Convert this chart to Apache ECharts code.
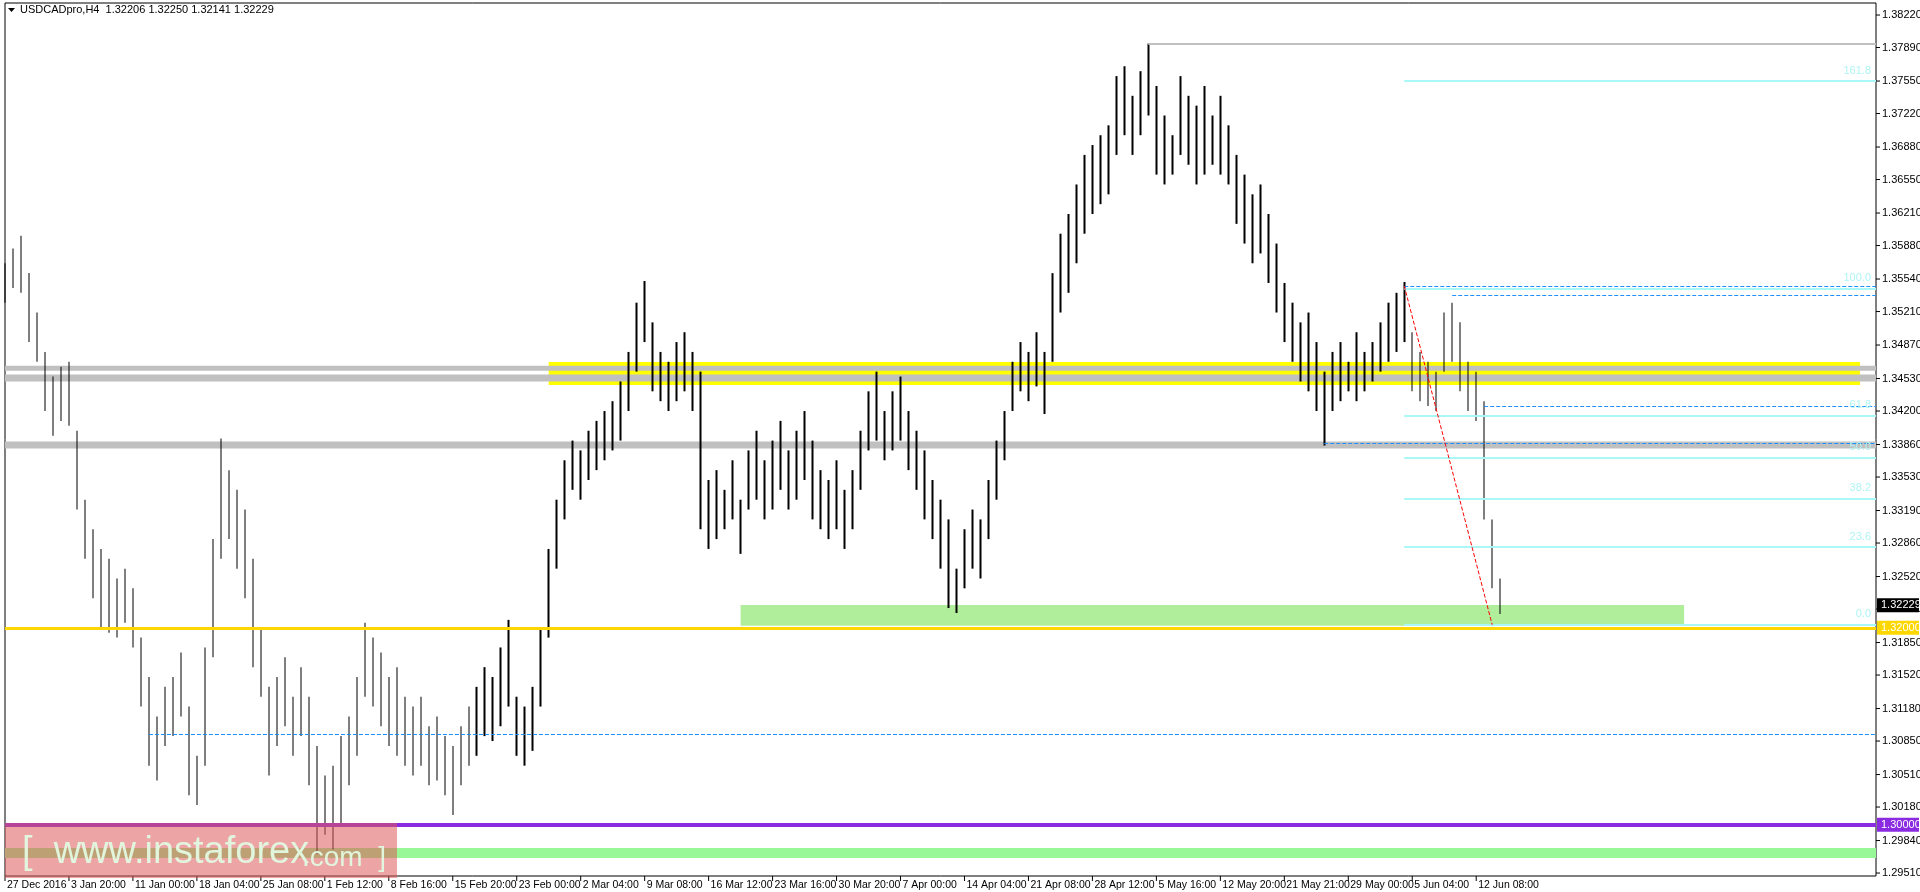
<!DOCTYPE html>
<html><head><meta charset="utf-8">
<script src="https://cdn.jsdelivr.net/npm/echarts@6/dist/echarts.min.js"></script>
<style>html,body{margin:0;padding:0;background:#fff}#c{width:1920px;height:892px}</style>
</head><body><div id="c"></div>
<script>
const tickLabels = ['27 Dec 2016','3 Jan 20:00','11 Jan 00:00','18 Jan 04:00','25 Jan 08:00','1 Feb 12:00','8 Feb 16:00','15 Feb 20:00','23 Feb 00:00','2 Mar 04:00','9 Mar 08:00','16 Mar 12:00','23 Mar 16:00','30 Mar 20:00','7 Apr 00:00','14 Apr 04:00','21 Apr 08:00','28 Apr 12:00','5 May 16:00','12 May 20:00','21 May 21:00','29 May 00:00','5 Jun 04:00','12 Jun 08:00'];
const yTicks = [1.38220,1.37890,1.37550,1.37220,1.36880,1.36550,1.36210,1.35880,1.35540,1.35210,1.34870,1.34530,1.34200,1.33860,1.33530,1.33190,1.32860,1.32520,1.32190,1.31850,1.31520,1.31180,1.30850,1.30510,1.30180,1.29840,1.29510];
const highs = [1.3570,1.3585,1.3598,1.3560,1.3520,1.3480,1.3455,1.3465,1.3470,1.3400,1.3330,
1.3300,1.3280,1.3270,1.3250,1.3260,1.3240,1.3190,1.3150,1.3110,1.3140,1.3150,1.3175,1.3120,1.3070,
1.3180,1.3290,1.3392,1.3360,1.3340,1.3320,1.3270,1.3200,1.3140,1.3150,1.3170,1.3130,1.3160,1.3130,
1.3080,1.3050,1.3060,1.3090,1.3110,1.3150,1.3205,1.3190,1.3175,1.3150,1.3160,1.3130,
1.3120,1.3130,1.3100,1.3110,1.3090,1.3080,1.3100,1.3120,1.3140,1.3160,1.3150,1.3180,1.3208,
1.3130,1.3120,1.3140,1.3200,1.3280,1.3330,1.3370,1.3390,1.3380,1.3400,1.3410,1.3420,1.3430,1.3450,1.3480,
1.3530,1.3552,1.3510,1.3480,1.3470,1.3490,1.3500,1.3480,1.3460,1.3350,1.3360,1.3340,1.3370,1.3330,
1.3380,1.3400,1.3370,1.3390,1.3410,1.3380,1.3400,1.3420,1.3390,1.3360,1.3350,1.3370,1.3340,1.3360,
1.3400,1.3440,1.3460,1.3420,1.3440,1.3455,1.3420,1.3400,1.3380,1.3350,1.3330,1.3310,1.3260,
1.3300,1.3320,1.3310,1.3350,1.3390,1.3420,1.3470,1.3490,1.3480,1.3500,1.3480,1.3560,1.3600,1.3620,
1.3650,1.3680,1.3690,1.3700,1.3710,1.3760,1.3770,1.3740,1.3765,1.3793,1.3750,1.3720,1.3700,
1.3760,1.3740,1.3730,1.3750,1.3720,1.3740,1.3710,1.3680,1.3660,1.3640,1.3650,1.3620,1.3590,
1.3550,1.3530,1.3510,1.3520,1.3490,1.3460,1.3480,1.3490,1.3470,1.3500,1.3480,1.3490,1.3510,
1.3530,1.3540,1.3551,1.3500,1.3480,1.3470,1.3460,1.3520,1.3530,1.3510,1.3470,1.3460,1.3430,1.3310,1.3250];
const lows = [1.3530,1.3545,1.3540,1.3490,1.3470,1.3420,1.3395,1.3410,1.3405,1.3320,1.3270,
1.3230,1.3200,1.3195,1.3190,1.3205,1.3180,1.3120,1.3060,1.3045,1.3080,1.3090,1.3110,1.3030,1.3020,
1.3060,1.3170,1.3270,1.3290,1.3260,1.3230,1.3160,1.3130,1.3050,1.3080,1.3100,1.3070,1.3090,1.3040,
1.2970,1.2990,1.2975,1.3000,1.3040,1.3070,1.3130,1.3120,1.3100,1.3080,1.3070,1.3060,
1.3050,1.3060,1.3040,1.3045,1.3030,1.3010,1.3040,1.3060,1.3070,1.3090,1.3085,1.3100,1.3120,
1.3070,1.3060,1.3075,1.3120,1.3190,1.3260,1.3310,1.3340,1.3330,1.3350,1.3360,1.3370,1.3380,1.3390,1.3420,
1.3460,1.3490,1.3440,1.3430,1.3420,1.3430,1.3440,1.3420,1.3300,1.3280,1.3290,1.3300,1.3310,1.3275,
1.3320,1.3330,1.3310,1.3320,1.3340,1.3320,1.3330,1.3350,1.3310,1.3300,1.3290,1.3300,1.3280,1.3300,
1.3340,1.3380,1.3390,1.3370,1.3380,1.3390,1.3360,1.3340,1.3310,1.3290,1.3260,1.3220,1.3215,
1.3240,1.3260,1.3250,1.3290,1.3330,1.3370,1.3420,1.3440,1.3430,1.3445,1.3417,1.3470,1.3520,1.3540,
1.3570,1.3600,1.3620,1.3630,1.3640,1.3680,1.3700,1.3680,1.3700,1.3720,1.3660,1.3650,1.3660,
1.3680,1.3670,1.3650,1.3660,1.3670,1.3660,1.3650,1.3610,1.3590,1.3570,1.3580,1.3550,1.3520,
1.3490,1.3470,1.3450,1.3440,1.3420,1.3385,1.3420,1.3430,1.3440,1.3430,1.3440,1.3450,1.3460,
1.3470,1.3480,1.3490,1.3440,1.3430,1.3425,1.3420,1.3460,1.3470,1.3440,1.3420,1.3410,1.3310,1.3240,1.3214];
const fibLevels = [['161.8',1.3755],['100.0',1.3544],['61.8',1.3415],['50.0',1.3373],['38.2',1.3331],['23.6',1.3282],['0.0',1.3203]];

const SLOTS = 235;
const cats = Array.from({length:SLOTS},(_,i)=>String(i));
const candles = highs.map((h,i)=>[lows[i],h,lows[i],h]);
const FONT='11px "Liberation Sans", Arial, sans-serif';
const XFONT='10.5px "Liberation Sans", Arial, sans-serif';

const chart = echarts.init(document.getElementById('c'));
const YMIN=1.29480, YMAX=1.38342;
const fibLines = fibLevels.map(f=>[{coord:['175',f[1]],label:{show:true,formatter:f[0],position:'insideEndTop',color:'#b0f4f4',fontSize:11,fontFamily:'Liberation Sans'}},{coord:['234',f[1]]}]);
const ls = (t,c,w)=>({type:t,color:c,width:w});
chart.setOption({
  animation:false,
  grid:{left:5,right:44,top:3,bottom:16,show:true,borderColor:'#000',borderWidth:1},
  xAxis:{type:'category',data:cats,boundaryGap:false,axisLine:{show:false},axisTick:{show:false},axisLabel:{show:false},splitLine:{show:false}},
  yAxis:{type:'value',min:YMIN,max:YMAX,position:'right',axisLabel:{show:false},axisLine:{show:false},axisTick:{show:false},splitLine:{show:false}},
  series:[{
    type:'candlestick',data:candles,barWidth:2,
    itemStyle:{color:'#000',color0:'#000',borderColor:'#000',borderColor0:'#000',borderWidth:0},
    markArea:{silent:true,data:[
      [{xAxis:'68',yAxis:1.34698,itemStyle:{color:'#ffff00'}},{xAxis:'232',yAxis:1.34464}],
      [{xAxis:'92',yAxis:1.32231,itemStyle:{color:'#b0ee9c'}},{xAxis:'210',yAxis:1.32020}],
      [{yAxis:1.34660,itemStyle:{color:'#c0c0c0'}},{yAxis:1.34610}],
      [{yAxis:1.34570,itemStyle:{color:'#c0c0c0'}},{yAxis:1.34500}],
      [{yAxis:1.33890,itemStyle:{color:'#c0c0c0'}},{yAxis:1.33820}],
      [{yAxis:1.29764,itemStyle:{color:'#98f898'}},{yAxis:1.29663}]
    ]},
    markLine:{silent:true,symbol:'none',label:{show:false},data:[
      {yAxis:1.32229,lineStyle:ls('solid','#c0c0c0',1)},
      {yAxis:1.32240,lineStyle:ls('solid','#98e898',2)},
      {yAxis:1.32000,lineStyle:ls('solid','#ffd700',3)},
      {yAxis:1.30048,lineStyle:ls('solid','#c0c0c0',3)},
      {yAxis:1.30000,lineStyle:ls('solid','#8a2be2',4)},
      [{coord:['143',1.37926]},{coord:['234',1.37926],lineStyle:ls('solid','#c0c0c0',2)}],
      ...fibLines.map(l=>{l[1].lineStyle=ls('solid','#aaf7f7',2);return l;}),
      [{coord:['175',1.35470]},{coord:['234',1.35470],lineStyle:ls('dashed','#1e90ff',1)}],
      [{coord:['181',1.35380]},{coord:['234',1.35380],lineStyle:ls('dashed','#1e90ff',1)}],
      [{coord:['185',1.34250]},{coord:['234',1.34250],lineStyle:ls('dashed','#1e90ff',1)}],
      [{coord:['165',1.33875]},{coord:['234',1.33875],lineStyle:ls('dashed','#1e90ff',1)}],
      [{coord:['18',1.30920]},{coord:['234',1.30920],lineStyle:ls('dashed','#1e90ff',1)}],
      [{coord:['175',1.35470]},{coord:['186',1.32030],lineStyle:ls('dashed','#ff0000',1)}]
    ]}
  }]
});
const g=[];
const ax=1876;
yTicks.forEach(v=>{const y=chart.convertToPixel({yAxisIndex:0},v);
  g.push({type:'line',shape:{x1:ax,y1:y,x2:ax+4,y2:y},style:{stroke:'#000'}});
  g.push({type:'text',x:ax+6,y:y,style:{text:v.toFixed(5),fill:'#000',font:FONT,verticalAlign:'middle'}});});
tickLabels.forEach((t,i)=>{const x=chart.convertToPixel({xAxisIndex:0},String(i*8));
  g.push({type:'line',shape:{x1:x,y1:876,x2:x,y2:881},style:{stroke:'#000'}});
  g.push({type:'text',x:x+2,y:885,style:{text:t,fill:'#000',font:XFONT,verticalAlign:'middle'}});});
[[1.32229,'#000','#fff'],[1.32000,'#ffd700','#fff'],[1.30000,'#8a2be2','#fff']].forEach(t=>{const y=chart.convertToPixel({yAxisIndex:0},t[0]);
  g.push({type:'rect',shape:{x:ax+1,y:y-7,width:42,height:14},style:{fill:t[1]}});
  g.push({type:'text',x:ax+5,y:y,style:{text:t[0].toFixed(5),fill:t[2],font:FONT,verticalAlign:'middle'}});});
g.push({type:'rect',shape:{x:5,y:823,width:392,height:55},style:{fill:'rgba(220,90,90,0.55)'},z:100});
g.push({type:'text',x:22,y:853,style:{text:'[  www.instaforex',fill:'rgba(225,250,225,0.95)',font:'38px "Liberation Sans", Arial, sans-serif',verticalAlign:'middle'},z:101});
g.push({type:'text',x:302,y:858,style:{text:'.com  ]',fill:'rgba(225,250,225,0.95)',font:'28px "Liberation Sans", Arial, sans-serif',verticalAlign:'middle'},z:101});
g.push({type:'text',x:20,y:10,style:{text:'USDCADpro,H4  1.32206 1.32250 1.32141 1.32229',fill:'#000',font:FONT,verticalAlign:'middle'}});
g.push({type:'polygon',shape:{points:[[8,8],[15,8],[11.5,12]]},style:{fill:'#000'}});
chart.setOption({graphic:g});
</script></body></html>
